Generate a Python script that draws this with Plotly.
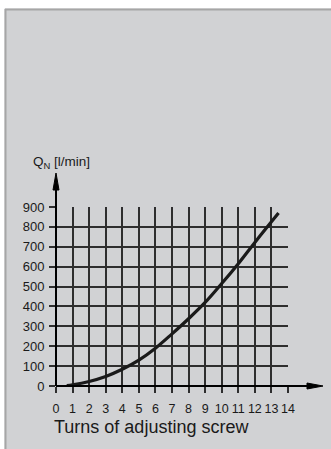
import plotly.graph_objects as go

# flow rate vs number of turns of the adjusting screw
turns = [0.65, 1, 2, 3, 4, 5, 6, 7, 8, 9, 10, 11, 12, 13, 13.43]
flow = [2, 6, 23, 48, 84, 130, 190, 262, 338, 420, 515, 615, 722, 826, 870]

x_ticks = list(range(0, 15))
y_ticks = list(range(0, 1000, 100))

W, H = 331, 449
L, R, T, B = 56, 43, 207, 63
PW, PH = W - L - R, H - T - B

FONT = "Liberation Sans Narrow, Arial Narrow, Liberation Sans, Arial"
GRID = "#2e2e2e"


# pixel -> paper helpers, for the decorations drawn outside the plot area
def px(x):
    return (x - L) / PW


def py(y):
    return (H - B - y) / PH


fig = go.Figure()
fig.add_trace(go.Scatter(x=turns, y=flow, mode="lines", line_shape="spline",
                         line=dict(color="#1a1a1a", width=3.2), hoverinfo="skip"))

shapes = [
    # white page strip + darker panel border
    dict(type="rect", xref="paper", yref="paper", x0=px(-5), x1=px(340), y0=py(8.5), y1=py(-5),
         fillcolor="white", line_width=0, layer="below"),
    dict(type="rect", xref="paper", yref="paper", x0=px(-5), x1=px(4.5), y0=py(460), y1=py(-5),
         fillcolor="white", line_width=0, layer="below"),
    dict(type="line", xref="paper", yref="paper", x0=px(5), x1=px(340), y0=py(9.5), y1=py(9.5),
         line=dict(color="#a6a6a6", width=2), layer="below"),
    dict(type="line", xref="paper", yref="paper", x0=px(5.5), x1=px(5.5), y0=py(460), y1=py(9),
         line=dict(color="#a6a6a6", width=2), layer="below"),
    # axis lines with arrow heads
    dict(type="line", xref="paper", yref="paper", x0=0, x1=px(310), y0=0, y1=0,
         line=dict(color="black", width=2)),
    dict(type="path", xref="paper", yref="paper",
         path=f"M {px(307)},{3 / PH} L {px(323)},0 L {px(307)},{-3 / PH} Z",
         fillcolor="black", line=dict(color="black", width=1)),
    dict(type="line", xref="paper", yref="paper", x0=0, x1=0, y0=0, y1=py(188),
         line=dict(color="black", width=2)),
    dict(type="path", xref="paper", yref="paper",
         path=f"M {-3 / PW},{py(190)} L 0,{py(173)} L {3 / PW},{py(190)} Z",
         fillcolor="black", line=dict(color="black", width=1)),
]

annotations = [
    dict(text="Q<sub>N</sub> [l/min]", xref="paper", yref="paper", x=px(31), y=py(162),
         xanchor="left", yanchor="middle", showarrow=False,
         font=dict(family=FONT, size=13.5, color="#1a1a1a")),
    dict(text="Turns of adjusting screw", xref="paper", yref="paper", x=px(52), y=py(427),
         xanchor="left", yanchor="middle", showarrow=False,
         font=dict(family=FONT, size=18, color="#1a1a1a")),
]

fig.update_layout(
    width=W, height=H,
    margin=dict(l=L, r=R, t=T, b=B, pad=0),
    paper_bgcolor="#d1d2d4",
    plot_bgcolor="rgba(0,0,0,0)",
    showlegend=False,
    font=dict(family=FONT, size=13, color="#1a1a1a"),
    shapes=shapes,
    annotations=annotations,
)
fig.update_xaxes(range=[0, 14], tickvals=x_ticks, tickangle=0, showgrid=True, gridcolor=GRID,
                 gridwidth=1.6, ticks="outside", ticklen=6, tickwidth=1.5, tickcolor=GRID,
                 ticklabelstandoff=5, tickfont=dict(size=12.5), automargin=False,
                 showline=False, zeroline=False, fixedrange=True)
fig.update_yaxes(range=[0, 900], tickvals=y_ticks, showgrid=True, gridcolor=GRID, gridwidth=1.6,
                 ticks="outside", ticklen=6, tickwidth=1.5, tickcolor=GRID,
                 ticklabelstandoff=2, automargin=False,
                 showline=False, zeroline=False, fixedrange=True)

# drop the browser's default 8px body margin so the figure fills the window
fig.write_html("out.html", config={"displayModeBar": False},
               post_script="document.body.style.margin = '0';")
